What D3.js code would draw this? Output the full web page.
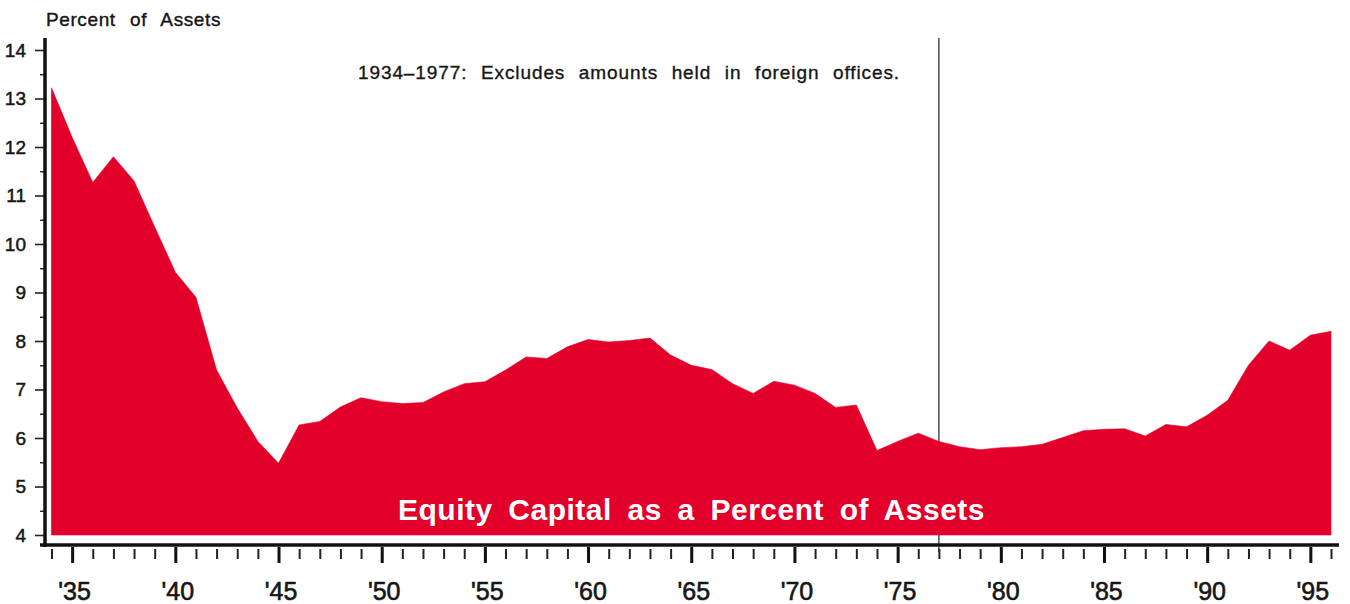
<!DOCTYPE html>
<html>
<head>
<meta charset="utf-8">
<script src="https://cdn.jsdelivr.net/npm/d3@7"></script>
<style>
  body { margin: 0; background: #fff; }
  svg { display: block; font-family: "Liberation Sans", Arial, Helvetica, sans-serif; }
</style>
</head>
<body>
<svg id="chart" width="1350" height="604"></svg>
<script>
// years shown on the axis, one point per year
var years = [1934, 1935, 1936, 1937, 1938, 1939, 1940, 1941, 1942, 1943,
  1944, 1945, 1946, 1947, 1948, 1949, 1950, 1951, 1952, 1953,
  1954, 1955, 1956, 1957, 1958, 1959, 1960, 1961, 1962, 1963,
  1964, 1965, 1966, 1967, 1968, 1969, 1970, 1971, 1972, 1973,
  1974, 1975, 1976, 1977, 1978, 1979, 1980, 1981, 1982, 1983,
  1984, 1985, 1986, 1987, 1988, 1989, 1990, 1991, 1992, 1993,
  1994, 1995, 1996];
// equity capital as a percent of assets
var equityPct = [13.22, 12.2, 11.27, 11.8, 11.3, 10.35, 9.42, 8.9, 7.4, 6.62,
  5.93, 5.48, 6.27, 6.34, 6.64, 6.83, 6.75, 6.71, 6.73, 6.95,
  7.12, 7.16, 7.40, 7.67, 7.64, 7.88, 8.03, 7.98, 8.01, 8.06,
  7.71, 7.50, 7.41, 7.12, 6.92, 7.17, 7.09, 6.92, 6.63, 6.68,
  5.74, 5.93, 6.10, 5.93, 5.82, 5.76, 5.80, 5.82, 5.87, 6.01,
  6.15, 6.18, 6.19, 6.04, 6.28, 6.23, 6.47, 6.78, 7.50, 8.00,
  7.81, 8.12, 8.20];
var yTicks = [4, 5, 6, 7, 8, 9, 10, 11, 12, 13, 14];
var yMinor = [4.5, 5.5, 6.5, 7.5, 8.5, 9.5, 10.5, 11.5, 12.5, 13.5];
var xMajor = [1935, 1940, 1945, 1950, 1955, 1960, 1965, 1970, 1975, 1980, 1985, 1990, 1995];
var breakYear = 1977;
var noteText = "1934\u20131977: Excludes amounts held in foreign offices.";
var titleText = "Equity Capital as a Percent of Assets";

var data = years.map(function(d, i) { return {year: d, v: equityPct[i]}; });

var svg = d3.select('#chart');
var x = d3.scaleLinear().domain([1934, 1996]).range([51.5, 1331]);
var y = d3.scaleLinear().domain([4, 14]).range([535, 50]);
var red = '#e2002a';
var ink = '#161616';

// break line for 1977, sits behind the area
svg.append('line')
  .attr('x1', x(breakYear)).attr('x2', x(breakYear))
  .attr('y1', 38).attr('y2', 552)
  .attr('stroke', '#333').attr('stroke-width', 1.3);

var area = d3.area()
  .x(function(d) { return x(d.year); })
  .y0(y(4))
  .y1(function(d) { return y(d.v); });

svg.append('path').datum(data)
  .attr('d', area)
  .attr('fill', red)
  .attr('stroke', red).attr('stroke-width', 0.6);

// y axis
var yAxis = svg.append('g').attr('transform', 'translate(45,0)')
  .call(d3.axisLeft(y).tickValues(yTicks).tickSize(10).tickPadding(9).tickFormat(d3.format('d')));
yAxis.select('.domain').remove();
yAxis.selectAll('line').attr('stroke', '#222').attr('stroke-width', 1.6);
yAxis.selectAll('text').attr('font-size', 19).attr('fill', ink)
  .attr('stroke', ink).attr('stroke-width', 0.5)
  .attr('font-family', '"Liberation Sans", Arial, sans-serif');

var yMin = svg.append('g').attr('transform', 'translate(45,0)')
  .call(d3.axisLeft(y).tickValues(yMinor).tickSize(5).tickFormat(''));
yMin.select('.domain').remove();
yMin.selectAll('line').attr('stroke', '#222').attr('stroke-width', 1.4);

svg.append('line')
  .attr('x1', 45).attr('x2', 45).attr('y1', 38).attr('y2', 547)
  .attr('stroke', '#111').attr('stroke-width', 3.5);

// x axis
var xMin = svg.append('g').attr('transform', 'translate(0,549)')
  .call(d3.axisBottom(x).tickValues(years).tickSize(10).tickFormat(''));
xMin.select('.domain').remove();
xMin.selectAll('line').attr('stroke', '#222').attr('stroke-width', 2);

var xAx = svg.append('g').attr('transform', 'translate(0,547)')
  .call(d3.axisBottom(x).tickValues(xMajor).tickSize(16)
    .tickFormat(function(d) { return "'" + String(d).slice(2); }));
xAx.select('.domain').remove();
xAx.selectAll('line').attr('stroke', '#111').attr('stroke-width', 3);
xAx.selectAll('text')
  .attr('y', 53).attr('dy', 0).attr('dx', 2)
  .attr('font-size', 25).attr('fill', ink)
  .attr('stroke', ink).attr('stroke-width', 0.6)
  .attr('font-family', '"Liberation Sans", Arial, sans-serif');

svg.append('line')
  .attr('x1', 40).attr('x2', 1339).attr('y1', 545).attr('y2', 545)
  .attr('stroke', '#111').attr('stroke-width', 3.5);

// stretch word gaps so a line of text fills the given width
function fitWords(sel, width) {
  var nat = sel.node().getComputedTextLength();
  var gaps = sel.text().split(' ').length - 1;
  if (gaps > 0 && nat < width) sel.attr('word-spacing', (width - nat) / gaps);
}

var ylab = svg.append('text')
  .attr('x', 46).attr('y', 26)
  .attr('font-size', 19).attr('letter-spacing', 0.6).attr('fill', ink)
  .attr('stroke', ink).attr('stroke-width', 0.4)
  .text('Percent of Assets');
fitWords(ylab, 175);

var note = svg.append('text')
  .attr('x', 358).attr('y', 79)
  .attr('font-size', 19).attr('letter-spacing', 0.9).attr('fill', ink)
  .attr('stroke', ink).attr('stroke-width', 0.35)
  .text(noteText);
fitWords(note, 542);

var title = svg.append('text')
  .attr('x', 398).attr('y', 520)
  .attr('font-size', 30).attr('font-weight', 'bold').attr('letter-spacing', 0.5).attr('fill', '#fff')
  .text(titleText);
fitWords(title, 587);
</script>
</body>
</html>
